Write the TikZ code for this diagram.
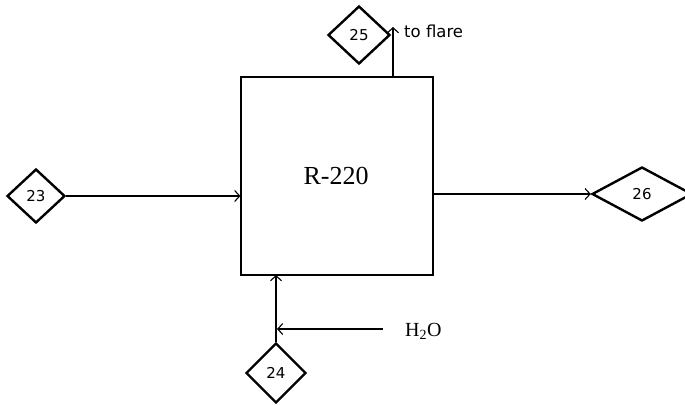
\documentclass[tikz,border=0pt]{standalone}
\usepackage{fontspec}
\setmainfont{Liberation Serif}
\newfontfamily\numfont{DejaVu Sans}
\usetikzlibrary{shapes.geometric,arrows.meta}
\begin{document}
\begin{tikzpicture}[x=1pt,y=-1pt,
  stream/.style={draw,diamond,line width=2.4pt,inner sep=0pt,font=\numfont\fontsize{15}{17}\selectfont},
  flow/.style={line width=1.2pt,-{Straight Barb[length=5pt,width=11pt,line width=1.1pt]}},
  lbl/.style={inner sep=0pt}]
\useasboundingbox (0,0) rectangle (685,405);
\node[draw,line width=1.2pt,minimum width=192pt,minimum height=198pt,inner sep=0pt] (r) at (337,176) {};
\node[font=\fontsize{26}{30}\selectfont,anchor=base] (rl) at (336,184) {R-220};
\node[stream,minimum width=58pt,minimum height=54pt] (s23) at (36,196) {23};
\node[stream,minimum width=62pt,minimum height=58pt] (s25) at (359,35) {25};
\node[stream,minimum width=100pt,minimum height=54pt] (s26) at (642,194) {26};
\node[stream,minimum width=60pt,minimum height=60pt] (s24) at (276,373) {24};
\coordinate (top) at (393,77);
\coordinate (flare) at (393,27);
\node[lbl,anchor=base west,font=\numfont\fontsize{16.5}{19}\selectfont] (tf) at (404,37) {to flare};
\coordinate (bot) at (276,275);
\coordinate (join) at (277,329);
\coordinate (wst) at (383,329);
\node[lbl,anchor=base west,font=\fontsize{20}{24}\selectfont] (h2o) at (405,336) {H\textsubscript{2}O};
\draw[flow] (s23.east) -- (s23.east -| r.west);
\draw[flow] (s26.west -| r.east) -- (s26.west);
\draw[flow] (top) -- (flare);
\draw[flow] (s24.north) -- (bot);
\draw[flow] (wst) -- (join);
\end{tikzpicture}
\end{document}
